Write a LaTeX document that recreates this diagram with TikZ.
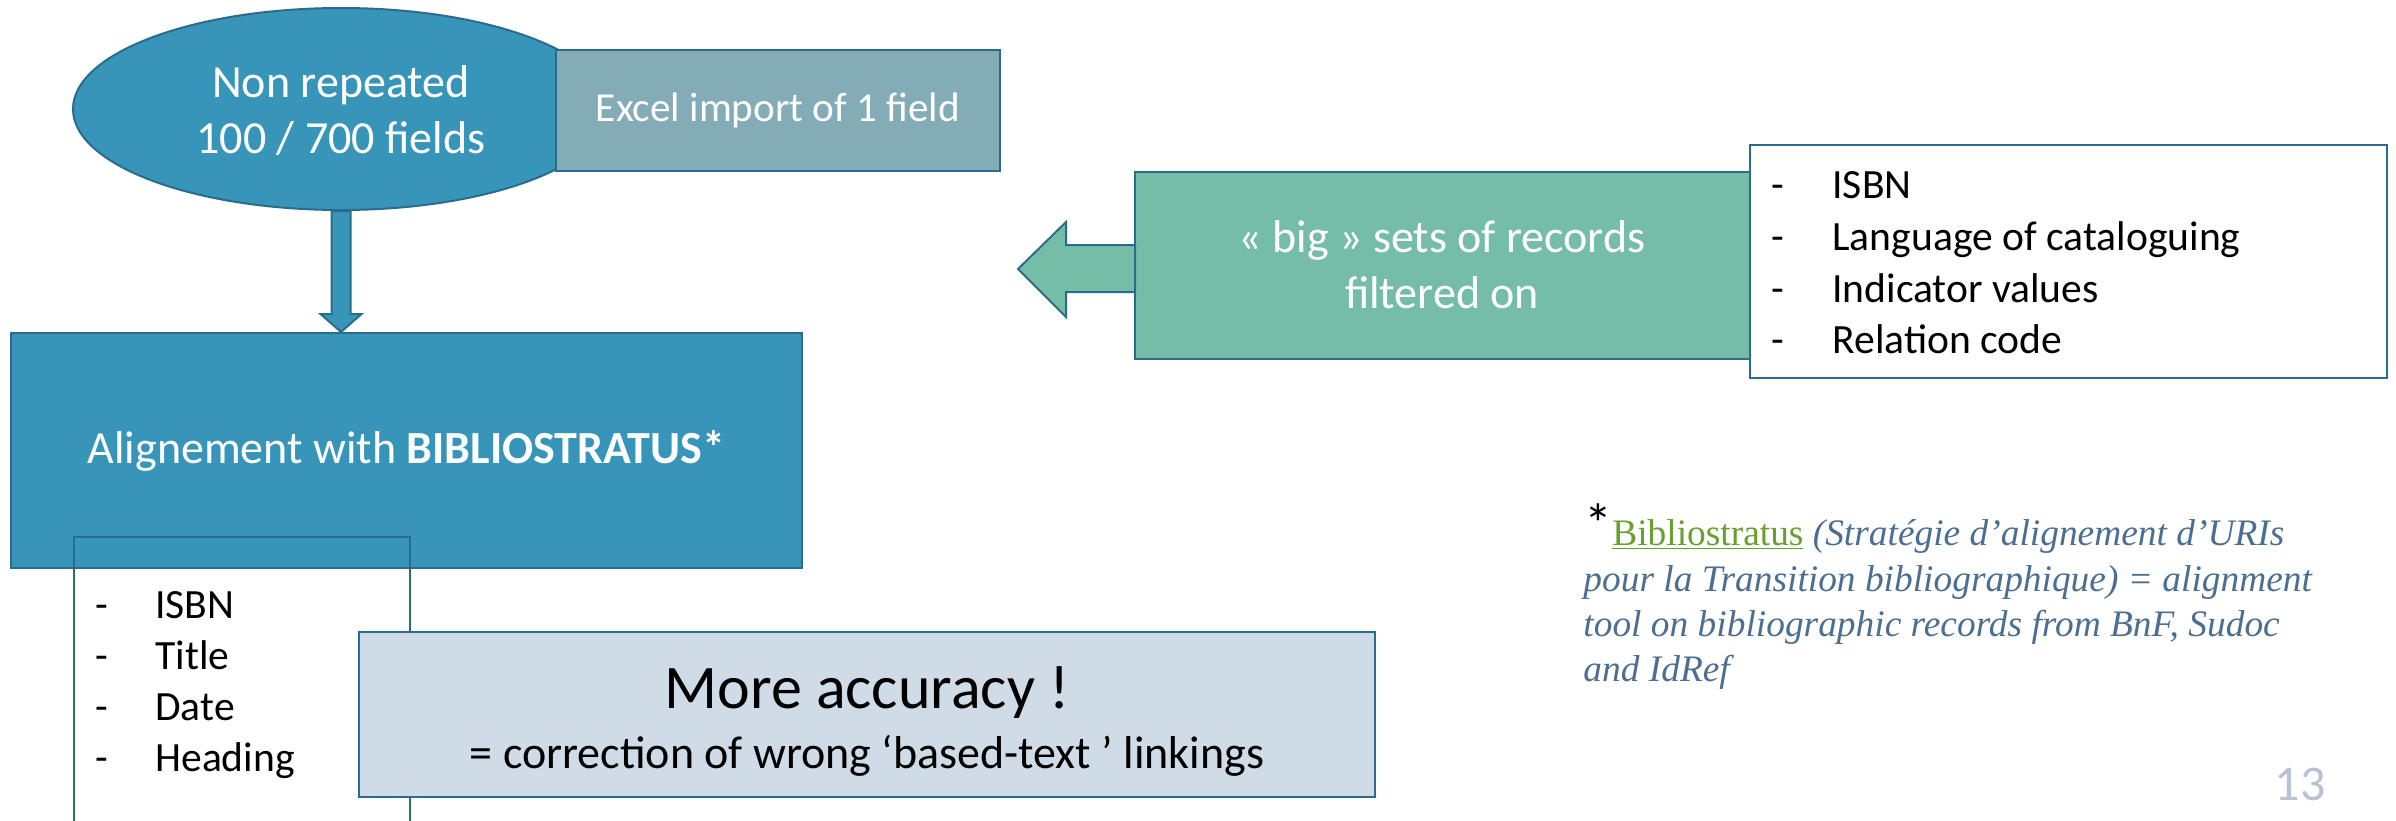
\documentclass[tikz,border=0pt]{standalone}
\usepackage{fontspec}
\setmainfont{Carlito}
\newfontfamily\notefont{Liberation Serif}
\usetikzlibrary{shapes.geometric,calc}
\definecolor{mainblue}{HTML}{3795BA}
\definecolor{edgecol}{HTML}{2B6B8C}
\definecolor{excelfill}{HTML}{84ACB6}
\definecolor{greenfill}{HTML}{76BDA7}
\definecolor{accfill}{HTML}{CFDCE7}
\definecolor{notecol}{HTML}{4B6E91}
\definecolor{linkgreen}{HTML}{6A9E2D}
\definecolor{pagenum}{HTML}{B8C2D4}
\tikzset{
  box/.style={draw=edgecol, line width=1pt, inner sep=0pt, rectangle},
  blockarrow/.style={draw=edgecol, line width=1pt, line join=miter},
  item/.style={anchor=base west, inner sep=0pt, font=\fontsize{20.8}{25}\selectfont},
  whitetext/.style={anchor=base, inner sep=0pt, text=white, font=\fontsize{23}{28}\selectfont},
  noteline/.style={anchor=base west, inner sep=0pt, text=notecol, font=\notefont\itshape\fontsize{18.7}{23}\selectfont},
}
\begin{document}
\begin{tikzpicture}[x={(0.5pt,0)}, y={(0,-0.5pt)}]
\useasboundingbox (0,0) rectangle (2396,820);

% top ellipse and excel box
\node[ellipse, draw=edgecol, line width=1pt, fill=mainblue, minimum width=268pt, minimum height=101pt, inner sep=0pt] (ell) at (341,109) {};
\node[whitetext] (ellA) at (341,97) {Non repeated};
\node[whitetext] (ellB) at (341,153) {100 / 700 fields};
\node[box, fill=excelfill, minimum width=222pt, minimum height=60.5pt, text=white, font=\fontsize{20.6}{25}\selectfont] (excel) at (778,110.5) {Excel import of 1 field};

% alignment box
\node[box, fill=mainblue, minimum width=395.5pt, minimum height=117.5pt, text=white, font=\fontsize{23}{28}\selectfont] (align) at (406.5,450.5) {Alignement with \textbf{BIBLIOSTRATUS*}};

% down block arrow
\coordinate (dtip) at (ell.south |- align.north);
\draw[blockarrow, fill=mainblue] ($(ell.south)+(-9.5,0)$) -- ($(dtip)+(-9.5,-18)$) -- ($(dtip)+(-20.5,-18)$) -- (dtip) -- ($(dtip)+(20.5,-18)$) -- ($(dtip)+(9.5,-18)$) -- ($(ell.south)+(9.5,0)$) -- cycle;

% left list box
\node[draw=edgecol, line width=0.75pt, minimum width=168pt, minimum height=146.5pt, inner sep=0pt] (listL) at (242,683.5) {};
\node[item] (lA) at (95,618) {-};
\node[item] (lAt) at (155,618) {ISBN};
\node[item] (lB) at (95,669) {-};
\node[item] (lBt) at (155,669) {Title};
\node[item] (lC) at (95,720) {-};
\node[item] (lCt) at (155,720) {Date};
\node[item] (lD) at (95,771) {-};
\node[item] (lDt) at (155,771) {Heading};

% accuracy box
\node[box, fill=accfill, minimum width=508pt, minimum height=82.5pt] (acc) at (867,714.5) {};
\node[anchor=base, inner sep=0pt, font=\fontsize{31}{36}\selectfont] (accA) at (867,708) {More accuracy !};
\node[anchor=base, inner sep=0pt, font=\fontsize{23}{28}\selectfont] (accB) at (867,768) {= correction of wrong ‘based-text ’ linkings};

% green box with left arrow
\node[box, fill=greenfill, minimum width=307.5pt, minimum height=93.5pt] (green) at (1442.5,265.5) {};
\node[whitetext] (gA) at (1442,252) {« big » sets of records};
\node[whitetext] (gB) at (1442,308) {filtered on};
\coordinate (ltip) at (1018,269);
\draw[blockarrow, fill=greenfill] (ltip) -- ($(ltip)+(48,-47)$) -- ($(ltip)+(48,-24)$) -- ($(ltip -| green.west)+(1,-24)$) -- ($(ltip -| green.west)+(1,23)$) -- ($(ltip)+(48,23)$) -- ($(ltip)+(48,48)$) -- cycle;

% right list box
\node[box, fill=white, minimum width=318.5pt, minimum height=116.5pt] (listR) at (2068.5,261.5) {};
\node[item] (rA) at (1771,198) {-};
\node[item] (rAt) at (1832,198) {ISBN};
\node[item] (rB) at (1771,250) {-};
\node[item] (rBt) at (1832,250) {Language of cataloguing};
\node[item] (rC) at (1771,302) {-};
\node[item] (rCt) at (1832,302) {Indicator values};
\node[item] (rD) at (1771,353) {-};
\node[item] (rDt) at (1832,353) {Relation code};

% note
\node[noteline] (n1) at (1584,545) {{\normalfont\fontsize{28}{30}\selectfont\color{black}\raisebox{1pt}{*}}{\upshape\color{linkgreen}\underline{Bibliostratus}} (Stratégie d’alignement d’URIs};
\node[noteline] (n2) at (1583,591) {pour la Transition bibliographique) = alignment};
\node[noteline] (n3) at (1583,636) {tool on bibliographic records from BnF, Sudoc};
\node[noteline] (n4) at (1583,681) {and IdRef};

% page number
\node[anchor=base, inner sep=0pt, text=pagenum, font=\fontsize{25}{30}\selectfont] (pg) at (2300,800) {13};
\end{tikzpicture}
\end{document}
